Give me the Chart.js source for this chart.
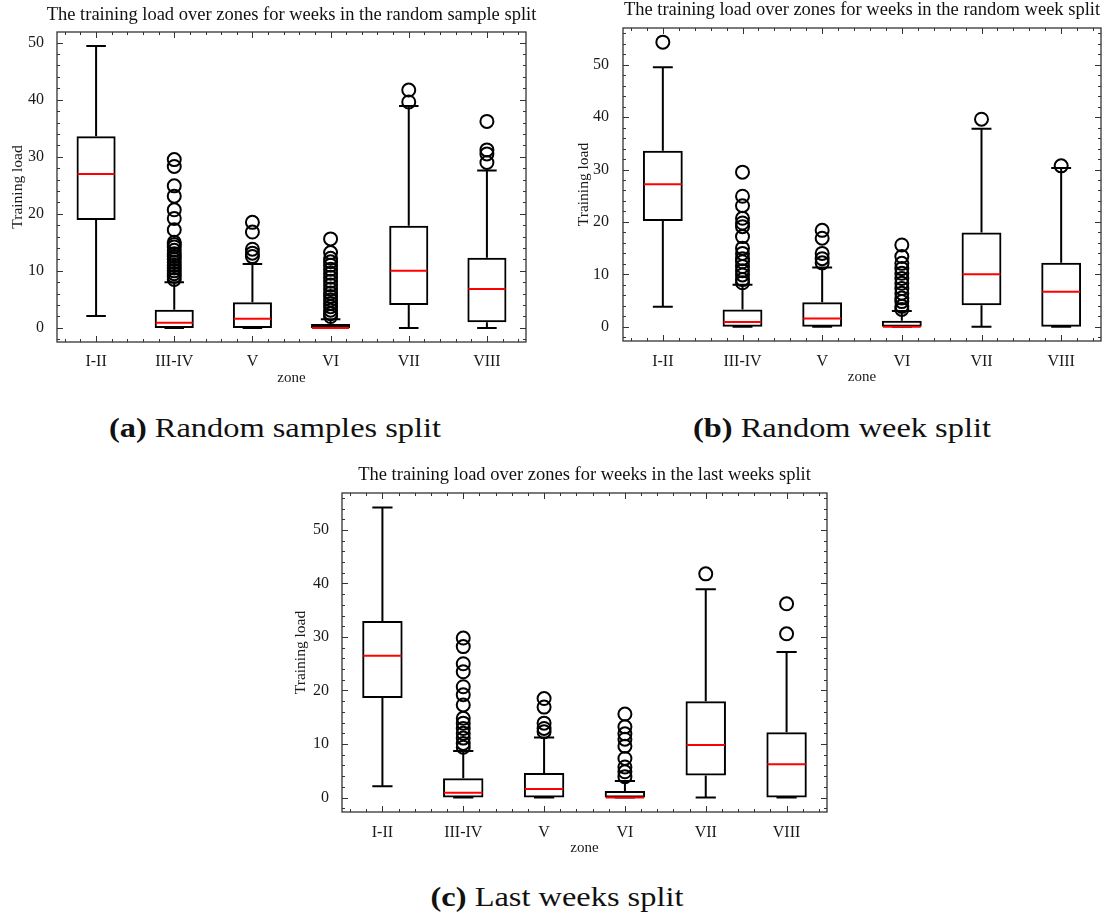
<!DOCTYPE html>
<html>
<head>
<meta charset="utf-8">
<title>Training load over zones</title>
<script src="https://cdn.jsdelivr.net/npm/chart.js@4.4.1/dist/chart.umd.min.js"></script>
<style>
  body { margin: 0; background: #fff; }
  #page { position: relative; width: 1116px; height: 918px; overflow: hidden; }
  canvas { position: absolute; }
  .caption {
    position: absolute;
    font-family: "Liberation Serif", serif;
    font-size: 27px;
    line-height: 30px;
    color: #111;
    white-space: nowrap;
    transform: translateX(-50%) scaleX(1.2);
  }
</style>
</head>
<body>
<div id="page">
  <canvas id="chartSample" width="545" height="392" style="left:0px;top:0px"></canvas>
  <canvas id="chartWeek" width="546" height="392" style="left:570px;top:0px"></canvas>
  <canvas id="chartLast" width="560" height="400" style="left:285px;top:462px"></canvas>
  <div class="caption" style="left:275px;top:413px"><b>(a)</b> Random samples split</div>
  <div class="caption" style="left:842px;top:413px"><b>(b)</b> Random week split</div>
  <div class="caption" style="left:557px;top:882px"><b>(c)</b> Last weeks split</div>
</div>
<script>
const zones = ['I-II', 'III-IV', 'V', 'VI', 'VII', 'VIII'];
const yTicks = [0, 10, 20, 30, 40, 50];

// random sample split
const sampleLow  = [2.1, 0, 0, 0, 0, 0];
const sampleQ1   = [18.9, 0, 0, 0, 4.0, 1.0];
const sampleMed  = [27.0, 0.9, 1.6, 0, 10.0, 6.8];
const sampleQ3   = [33.6, 3.2, 4.5, 0.7, 17.9, 12.3];
const sampleHigh = [49.4, 8.0, 11.2, 1.5, 38.9, 27.6];
const sampleOut  = [
    [],
    [29.5, 28.3, 24.9, 23.1, 20.7, 19.2, 17.2, 15.0, 14.6, 14.2, 13.6, 13.0, 12.5, 12.0, 11.5, 11.0, 10.5, 10.0, 9.5, 9.0, 8.5],
    [18.5, 16.8, 13.8, 13.1, 12.5],
    [15.6, 13.2, 12.2, 11.6, 11.0, 10.3, 9.6, 8.9, 8.2, 7.5, 6.8, 6.1, 5.5, 4.9, 4.3, 3.7, 3.1, 2.5, 2.0],
    [41.7, 39.6],
    [36.2, 31.2, 30.5, 29.0]
];

// random week split
const weekLow  = [3.8, 0, 0, 0, 0, 0];
const weekQ1   = [20.2, 0, 0, 0, 4.1, 0];
const weekMed  = [27.2, 0.9, 1.6, 0, 10.0, 6.7];
const weekQ3   = [33.6, 3.3, 4.7, 1.15, 18.0, 12.2];
const weekHigh = [49.5, 8.0, 11.3, 3.0, 37.8, 30.3];
const weekOut  = [
    [54.3],
    [29.5, 24.9, 23.1, 20.7, 19.8, 19.1, 17.2, 15.0, 14.0, 13.0, 12.4, 11.5, 10.7, 9.9, 9.0, 8.4],
    [18.4, 16.9, 14.0, 13.0, 12.2],
    [15.6, 13.4, 12.1, 11.1, 10.2, 9.2, 8.3, 7.3, 6.4, 5.5, 4.8, 3.9, 3.3],
    [39.6],
    [30.7]
];

// last weeks split
const lastLow  = [2.1, 0, 0, 0, 0, 0];
const lastQ1   = [18.6, 0, 0, 0, 4.1, 0];
const lastMed  = [26.5, 0.9, 1.6, 0, 9.8, 6.2];
const lastQ3   = [33.0, 3.6, 4.6, 1.2, 18.0, 12.2];
const lastHigh = [54.2, 8.7, 11.2, 3.1, 38.9, 27.2];
const lastOut  = [
    [],
    [29.8, 28.2, 25.0, 23.5, 20.7, 19.2, 17.3, 14.8, 13.9, 12.9, 12.0, 11.1, 10.1, 9.4],
    [18.5, 16.9, 13.9, 12.9, 12.3],
    [15.6, 13.2, 11.9, 10.9, 9.6, 7.3, 5.7, 4.8, 3.9],
    [41.8],
    [36.2, 30.6]
];

const serif = "'Liberation Serif', 'Times New Roman', serif";
const ink = '#1a1a1a';

// whiskers, caps, medians, frame with inward ticks, and the panel title
function boxParts(stats, title) {
    return {
        id: 'boxParts',
        afterDatasetsDraw(chart) {
            const ctx = chart.ctx;
            const x = chart.scales.x, y = chart.scales.y;
            ctx.save();
            ctx.lineWidth = 2;
            ctx.lineCap = 'butt';
            stats.med.forEach((m, i) => {
                const c = x.getPixelForValue(i + 1);
                const capL = x.getPixelForValue(i + 1 - 0.125);
                const capR = x.getPixelForValue(i + 1 + 0.125);
                const yHigh = y.getPixelForValue(stats.high[i]);
                const yLow = y.getPixelForValue(stats.low[i]);
                ctx.strokeStyle = '#000';
                ctx.beginPath();
                ctx.moveTo(c, y.getPixelForValue(stats.q3[i]));
                ctx.lineTo(c, yHigh);
                ctx.moveTo(c, y.getPixelForValue(stats.q1[i]));
                ctx.lineTo(c, yLow);
                ctx.moveTo(capL, yHigh);
                ctx.lineTo(capR, yHigh);
                ctx.moveTo(capL, yLow);
                ctx.lineTo(capR, yLow);
                ctx.stroke();

                const boxL = x.getPixelForValue(i + 1 - 0.25);
                const boxR = x.getPixelForValue(i + 1 + 0.25);
                const yMed = y.getPixelForValue(m);
                ctx.strokeStyle = '#ff0000';
                ctx.beginPath();
                ctx.moveTo(boxL + 1, yMed);
                ctx.lineTo(boxR - 1, yMed);
                ctx.stroke();
            });
            ctx.restore();
        },
        afterDraw(chart) {
            const ctx = chart.ctx;
            const a = chart.chartArea;
            const x = chart.scales.x, y = chart.scales.y;
            ctx.save();
            ctx.strokeStyle = '#333';
            ctx.lineWidth = 1.3;
            ctx.strokeRect(a.left, a.top, a.right - a.left, a.bottom - a.top);

            ctx.lineWidth = 1;
            ctx.beginPath();
            for (let v = Math.ceil(y.min / 2) * 2; v <= y.max; v += 2) {
                const py = Math.round(y.getPixelForValue(v)) + 0.5;
                const len = v % 10 === 0 ? 6 : 3;
                ctx.moveTo(a.left, py); ctx.lineTo(a.left + len, py);
                ctx.moveTo(a.right, py); ctx.lineTo(a.right - len, py);
            }
            for (let k = 3; k <= 32; k++) {
                const v = k / 5;
                const px = Math.round(x.getPixelForValue(v)) + 0.5;
                const len = k % 5 === 0 ? 6 : 3;
                ctx.moveTo(px, a.bottom); ctx.lineTo(px, a.bottom - len);
                ctx.moveTo(px, a.top); ctx.lineTo(px, a.top + len);
            }
            ctx.stroke();

            ctx.fillStyle = '#111';
            ctx.font = '18.5px ' + serif;
            ctx.textAlign = 'center';
            ctx.textBaseline = 'middle';
            ctx.fillText(title.text, (a.left + a.right) / 2, a.top - title.gap);
            ctx.restore();
        }
    };
}

function makePanel(id, stats, title, geo) {
    const boxes = zones.map((z, i) => ({x: i + 1, y: [stats.q1[i], stats.q3[i]]}));
    const fliers = [];
    stats.out.forEach((list, i) => list.forEach(v => fliers.push({x: i + 1, y: v})));
    return new Chart(document.getElementById(id), {
        type: 'bar',
        data: {
            datasets: [
                {
                    type: 'scatter',
                    data: fliers,
                    pointStyle: 'circle',
                    pointRadius: 6.5,
                    pointBorderWidth: 2,
                    borderColor: '#000',
                    backgroundColor: 'rgba(0,0,0,0)'
                },
                {
                    data: boxes,
                    backgroundColor: 'rgba(0,0,0,0)',
                    borderColor: '#000',
                    borderWidth: 2,
                    borderSkipped: false,
                    barPercentage: 0.5,
                    categoryPercentage: 1
                }
            ]
        },
        options: {
            responsive: false,
            animation: false,
            layout: {padding: {left: 0, right: geo.right, top: geo.top, bottom: 0}},
            plugins: {
                legend: {display: false},
                tooltip: {enabled: false}
            },
            scales: {
                x: {
                    type: 'linear',
                    min: 0.5,
                    max: 6.5,
                    offset: false,
                    grid: {display: false},
                    border: {display: false},
                    afterBuildTicks: axis => { axis.ticks = zones.map((z, i) => ({value: i + 1})); },
                    afterFit: axis => { axis.height = geo.xHeight; },
                    ticks: {
                        autoSkip: false,
                        maxRotation: 0,
                        padding: geo.xPad,
                        color: ink,
                        font: {size: 16, family: serif}
                    ,
                        callback: v => zones[v - 1]
                    },
                    title: {
                        display: true,
                        text: 'zone',
                        color: ink,
                        padding: {top: 0, bottom: geo.zonePad},
                        font: {size: 15, family: serif}
                    }
                },
                y: {
                    type: 'linear',
                    min: stats.bottom,
                    max: stats.top,
                    grid: {display: false},
                    border: {display: false},
                    afterBuildTicks: axis => { axis.ticks = yTicks.map(v => ({value: v})); },
                    afterFit: axis => { axis.width = geo.yWidth; },
                    ticks: {
                        padding: geo.yPad,
                        color: ink,
                        font: {size: 16, family: serif}
                    },
                    title: {
                        display: true,
                        text: 'Training load',
                        color: ink,
                        padding: {top: geo.labelPad, bottom: 0},
                        font: {size: 15.5, family: serif}
                    }
                }
            }
        },
        plugins: [boxParts(stats, title)]
    });
}

makePanel('chartSample',
    {low: sampleLow, q1: sampleQ1, med: sampleMed, q3: sampleQ3, high: sampleHigh, out: sampleOut, bottom: -2.47, top: 51.87},
    {text: 'The training load over zones for weeks in the random sample split', gap: 17},
    {right: 19, top: 32, yWidth: 57, xHeight: 50, xPad: 2, zonePad: 5, yPad: 5, labelPad: 8.5});

makePanel('chartWeek',
    {low: weekLow, q1: weekQ1, med: weekMed, q3: weekQ3, high: weekHigh, out: weekOut, bottom: -2.715, top: 57.0},
    {text: 'The training load over zones for weeks in the random week split', gap: 18},
    {right: 15, top: 28, yWidth: 53, xHeight: 51, xPad: 3, zonePad: 5.5, yPad: 6, labelPad: 4.5});

makePanel('chartLast',
    {low: lastLow, q1: lastQ1, med: lastMed, q3: lastQ3, high: lastHigh, out: lastOut, bottom: -2.71, top: 56.91},
    {text: 'The training load over zones for weeks in the last weeks split', gap: 18},
    {right: 18, top: 31, yWidth: 57, xHeight: 50, xPad: 3.5, zonePad: 5, yPad: 5, labelPad: 7});
</script>
</body>
</html>
